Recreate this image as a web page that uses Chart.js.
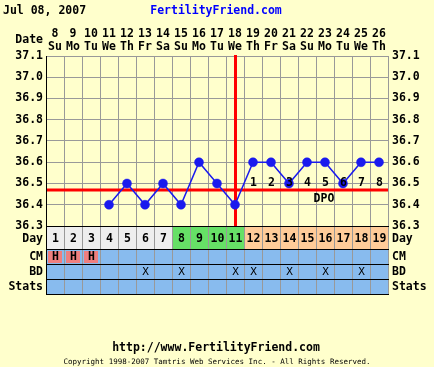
<!DOCTYPE html>
<html>
<head>
<meta charset="utf-8">
<script src="https://cdn.jsdelivr.net/npm/chart.js@4"></script>
<style>
  html, body { margin: 0; padding: 0; background: #ffffcc; }
  canvas { display: block; }
</style>
</head>
<body>
<canvas id="bbt" width="434" height="367"></canvas>
<script>
const cycleDays = ['1','2','3','4','5','6','7','8','9','10','11','12','13','14','15','16','17','18','19'];
const dates = ['8','9','10','11','12','13','14','15','16','17','18','19','20','21','22','23','24','25','26'];
const weekdays = ['Su','Mo','Tu','We','Th','Fr','Sa','Su','Mo','Tu','We','Th','Fr','Sa','Su','Mo','Tu','We','Th'];
const temps = [null,null,null,36.4,36.5,36.4,36.5,36.4,36.6,36.5,36.4,36.6,36.6,36.5,36.6,36.6,36.5,36.6,36.6];
const phases = ['pre','pre','pre','pre','pre','pre','pre','fert','fert','fert','fert','post','post','post','post','post','post','post','post'];
const cm = ['H','H','H','','','','','','','','','','','','','','','',''];
const bd = ['','','','','','X','','X','','','X','X','','X','','X','','X',''];
const dpo = [null,null,null,null,null,null,null,null,null,null,null,1,2,3,4,5,6,7,8];
const yTicks = [36.3,36.4,36.5,36.6,36.7,36.8,36.9,37.0,37.1];
const coverline = 36.47;
const ovulationIndex = 10;

const FONT = "'DejaVu Sans Mono', monospace";
const phaseColors = { pre: '#eeeeee', fert: '#66e066', post: '#ffcc99' };
const rowBlue = '#88bbee';

const tablePlugin = {
  id: 'ffTable',
  beforeDraw(chart){
    const ctx = chart.ctx;
    ctx.save();
    ctx.fillStyle = '#ffffcc';
    ctx.fillRect(0, 0, chart.width, chart.height);
    ctx.restore();
  },
  beforeDatasetsDraw(chart){
    const ctx = chart.ctx, a = chart.chartArea;
    const x = chart.scales.x, y = chart.scales.y;
    ctx.save();
    ctx.strokeStyle = '#ff0000';
    ctx.lineWidth = 3;
    const cy = Math.round(y.getPixelForValue(coverline));
    ctx.beginPath(); ctx.moveTo(a.left, cy); ctx.lineTo(a.right, cy); ctx.stroke();
    const ox = Math.round(x.getPixelForValue(ovulationIndex)) + 0.5;
    ctx.beginPath(); ctx.moveTo(ox, a.top - 1); ctx.lineTo(ox, a.bottom); ctx.stroke();
    ctx.restore();
  },
  afterDatasetsDraw(chart){
    const ctx = chart.ctx;
    const x = chart.scales.x, y = chart.scales.y;
    const cy = y.getPixelForValue(coverline);
    ctx.save();
    ctx.fillStyle = '#000';
    ctx.font = 'bold 11.5px ' + FONT;
    ctx.textAlign = 'center';
    ctx.textBaseline = 'middle';
    dpo.forEach((d, i) => {
      if(d !== null) ctx.fillText(String(d), x.getPixelForValue(i) + 0.5, cy - 7);
    });
    ctx.fillText('DPO', x.getPixelForValue(15) - 1, cy + 9);
    ctx.restore();
  },
  afterDraw(chart){
    const ctx = chart.ctx, a = chart.chartArea;
    const x = chart.scales.x;
    const half = (x.getPixelForValue(1) - x.getPixelForValue(0)) / 2;
    const rows = [
      { name: 'Day', h: 23 },
      { name: 'CM', h: 15 },
      { name: 'BD', h: 15 },
      { name: 'Stats', h: 15 }
    ];
    let top = a.bottom;
    const tops = [];
    rows.forEach(r => { tops.push(top); top += r.h; });
    const tableBottom = top;

    ctx.save();
    // cells
    cycleDays.forEach((d, i) => {
      const x0 = Math.round(x.getPixelForValue(i) - half);
      const x1 = Math.round(x.getPixelForValue(i) + half);
      ctx.fillStyle = phaseColors[phases[i]];
      ctx.fillRect(x0, tops[0], x1 - x0, rows[0].h);
      for(let r = 1; r < rows.length; r++){
        ctx.fillStyle = rowBlue;
        ctx.fillRect(x0, tops[r], x1 - x0, rows[r].h);
      }
      if(cm[i]){
        ctx.fillStyle = '#ef7f7f';
        ctx.fillRect(x0 + 2, tops[1] + 2, x1 - x0 - 4, rows[1].h - 3);
      }
    });
    // grid lines
    ctx.strokeStyle = '#999999';
    ctx.lineWidth = 1;
    for(let i = 1; i < cycleDays.length; i++){
      const bx = Math.round(x.getPixelForValue(i) - half) + 0.5;
      ctx.beginPath(); ctx.moveTo(bx, a.bottom); ctx.lineTo(bx, tableBottom); ctx.stroke();
    }
    const rx = Math.round(a.right) + 0.5;
    ctx.beginPath(); ctx.moveTo(rx, a.bottom); ctx.lineTo(rx, tableBottom); ctx.stroke();
    ctx.strokeStyle = '#000';
    tops.concat([tableBottom]).forEach(t => {
      ctx.beginPath(); ctx.moveTo(a.left, t + 0.5); ctx.lineTo(a.right + 1, t + 0.5); ctx.stroke();
    });
    const lx = Math.round(a.left) + 0.5;
    ctx.beginPath(); ctx.moveTo(lx, a.top); ctx.lineTo(lx, tableBottom); ctx.stroke();

    // cell texts
    ctx.fillStyle = '#000';
    ctx.textAlign = 'center';
    ctx.textBaseline = 'middle';
    cycleDays.forEach((d, i) => {
      const cx = x.getPixelForValue(i) + 0.5;
      ctx.font = 'bold 11.5px ' + FONT;
      ctx.fillText(d, cx, tops[0] + rows[0].h / 2 + 1.5);
      if(cm[i]) ctx.fillText(cm[i], cx, tops[1] + rows[1].h / 2 + 1);
      if(bd[i]){
        ctx.font = '11px ' + FONT;
        ctx.fillText(bd[i], cx, tops[2] + rows[2].h / 2 + 1);
      }
    });

    // row labels both sides
    ctx.font = 'bold 11.5px ' + FONT;
    rows.forEach((r, k) => {
      const ly = tops[k] + r.h / 2 + (k === 0 ? 1.5 : 1);
      ctx.textAlign = 'right';
      ctx.fillText(r.name, a.left - 3, ly);
      ctx.textAlign = 'left';
      ctx.fillText(r.name, a.right + 4, ly);
    });

    // header
    ctx.textAlign = 'left';
    ctx.fillText('Jul 08, 2007', 3, 11);
    ctx.textAlign = 'right';
    ctx.fillText('Date', a.left - 3, 40);
    ctx.textAlign = 'center';
    ctx.fillStyle = '#0000ff';
    ctx.fillText('FertilityFriend.com', 216, 11);

    // footer
    ctx.fillStyle = '#000';
    ctx.fillText('http://www.FertilityFriend.com', 216, 348);
    ctx.font = '7.5px ' + FONT;
    ctx.fillText('Copyright 1998-2007 Tamtris Web Services Inc. - All Rights Reserved.', 217, 362);
    ctx.restore();
  }
};

const tickFont = { family: FONT, size: 11.5, weight: 'bold' };
const yAxis = (pos, width) => ({
  type: 'linear',
  position: pos,
  min: yTicks[0],
  max: yTicks[yTicks.length - 1],
  afterBuildTicks: s => { s.ticks = yTicks.map(v => ({ value: v })); },
  afterFit: s => { s.width = width; },
  grid: { display: pos === 'left', color: '#999999', drawTicks: false },
  border: { color: pos === 'left' ? '#000' : '#999999' },
  ticks: { color: '#000', font: tickFont, padding: pos === 'left' ? 3 : 4, callback: v => Number(v).toFixed(1) }
});

new Chart(document.getElementById('bbt'), {
  type: 'line',
  data: {
    labels: cycleDays,
    datasets: [{
      data: temps,
      borderColor: '#1a1aee',
      backgroundColor: '#1a1aee',
      borderWidth: 1.5,
      pointRadius: 4.5,
      pointBorderWidth: 0.5,
      pointHoverRadius: 4.5,
      tension: 0,
      clip: false
    }]
  },
  plugins: [tablePlugin],
  options: {
    responsive: false,
    animation: false,
    devicePixelRatio: 1,
    layout: { padding: { left: 0, right: 0, top: 0, bottom: 141 } },
    plugins: { legend: { display: false }, tooltip: { enabled: false } },
    scales: {
      x: {
        type: 'category',
        position: 'top',
        offset: true,
        afterFit: s => { s.height = 56; },
        grid: { offset: true, color: '#999999', drawTicks: false },
        border: { color: '#999999' },
        ticks: {
          color: '#000',
          font: { family: FONT, size: 11.5, weight: 'bold', lineHeight: 1.15 },
          padding: 2,
          maxRotation: 0,
          autoSkip: false,
          callback: (v, i) => [dates[i], weekdays[i]]
        }
      },
      y: yAxis('left', 46),
      y2: yAxis('right', 46)
    }
  }
});
</script>
</body>
</html>
